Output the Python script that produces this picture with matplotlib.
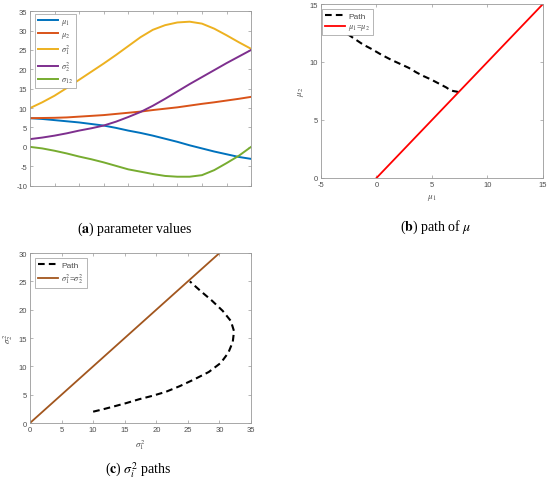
import matplotlib.pyplot as plt

plt.rcParams['font.family'] = ['Liberation Sans', 'DejaVu Sans']
plt.rcParams['mathtext.fontset'] = 'stix'
plt.rcParams['axes.unicode_minus'] = False

# parameter values along the path, read at half steps (step index 0..9)
step = [0, 0.5, 1, 1.5, 2, 2.5, 3, 3.5, 4, 4.5, 5, 5.5, 6, 6.5, 7, 7.5, 8, 8.5, 9]
mu1 = [7.4, 7.2, 6.9, 6.6, 6.3, 5.9, 5.5, 4.9, 4.2, 3.6, 2.9, 2.1, 1.3, 0.4, -0.4, -1.2, -1.9, -2.6, -3.1]
mu2 = [7.4, 7.45, 7.5, 7.6, 7.8, 8.0, 8.2, 8.5, 8.8, 9.1, 9.5, 9.85, 10.2, 10.65, 11.1, 11.5, 11.95, 12.4, 12.9]
sig1 = [10.0, 11.5, 13.2, 15.2, 17.3, 19.4, 21.5, 23.7, 26.0, 28.3, 30.2, 31.4, 32.1, 32.3, 31.8, 30.5, 28.8, 27.0, 25.3]
sig2 = [2.0, 2.4, 2.9, 3.5, 4.2, 4.8, 5.5, 6.5, 7.7, 9.0, 10.6, 12.4, 14.3, 16.2, 18.0, 19.8, 21.6, 23.3, 25.0]
sig12 = [0.0, -0.4, -1.0, -1.7, -2.5, -3.2, -4.0, -4.9, -5.8, -6.4, -7.0, -7.5, -7.7, -7.7, -7.3, -6.0, -4.2, -2.3, 0.0]

diag_mu = [0, 15]
diag_sig = [0, 30]

fig = plt.figure(figsize=(5.5, 4.81), dpi=100)
ax_a = fig.add_axes([0.0545, 0.612, 0.402, 0.3626])
ax_b = fig.add_axes([0.5836, 0.6279, 0.4036, 0.3617])
ax_c = fig.add_axes([0.0545, 0.1185, 0.402, 0.3534])


def style(ax):
    for s in ax.spines.values():
        s.set_color('0.6')
        s.set_linewidth(0.6)
    ax.tick_params(direction='in', length=2.5, width=0.5, colors='0.6',
                   labelcolor='0.3', labelsize=5.5, top=True, right=True, pad=2)


def legend(ax, x, y, spacing):
    leg = ax.legend(loc='upper left', bbox_to_anchor=(x, y), fontsize=6,
                    handlelength=2.4, labelspacing=spacing, borderpad=0.35,
                    handletextpad=0.4, fancybox=False, framealpha=1,
                    borderaxespad=0)
    leg.get_frame().set_edgecolor('0.6')
    leg.get_frame().set_linewidth(0.5)
    for t in leg.get_texts():
        t.set_color('0.3')


# (a) parameter values
ax_a.plot(step, mu1, color='#0072BD', lw=1.4, label=r'$\mu_1$')
ax_a.plot(step, mu2, color='#D95319', lw=1.4, label=r'$\mu_2$')
ax_a.plot(step, sig1, color='#EDB120', lw=1.4, label=r'$\sigma_1^2$')
ax_a.plot(step, sig2, color='#7E2F8E', lw=1.4, label=r'$\sigma_2^2$')
ax_a.plot(step, sig12, color='#77AC30', lw=1.4, label=r'$\sigma_{12}$')
ax_a.set_xlim(0, 9)
ax_a.set_ylim(-10, 35)
ax_a.set_xticks(range(10))
ax_a.set_xticklabels([])
ax_a.set_yticks(range(-10, 36, 5))
style(ax_a)
legend(ax_a, 0.023, 0.985, 0.35)

# (b) path of mu
ax_b.plot(mu1, mu2, color='k', lw=1.5, dashes=(3.2, 2.0), label='Path')
ax_b.plot(diag_mu, diag_mu, color='red', lw=1.3, label=r'$\mu_1$=$\mu_2$')
ax_b.set_xlim(-5, 15)
ax_b.set_ylim(0, 15)
ax_b.set_xticks(range(-5, 16, 5))
ax_b.set_yticks(range(0, 16, 5))
ax_b.set_xlabel(r'$\mu_1$', fontsize=6.5, color='0.3', labelpad=3)
ax_b.set_ylabel(r'$\mu_2$', fontsize=6.5, color='0.3', labelpad=3)
style(ax_b)
legend(ax_b, 0.005, 0.97, 0.3)

# (c) sigma^2 paths
ax_c.plot(sig1, sig2, color='k', lw=1.5, dashes=(3.2, 2.0), label='Path')
ax_c.plot(diag_sig, diag_sig, color='#A2561E', lw=1.3, label=r'$\sigma_1^2$=$\sigma_2^2$')
ax_c.set_xlim(0, 35)
ax_c.set_ylim(0, 30)
ax_c.set_xticks(range(0, 36, 5))
ax_c.set_yticks(range(0, 31, 5))
ax_c.set_xlabel(r'$\sigma_1^2$', fontsize=6.5, color='0.3', labelpad=3)
ax_c.set_ylabel(r'$\sigma_2^2$', fontsize=6.5, color='0.3', labelpad=3)
style(ax_c)
legend(ax_c, 0.023, 0.97, 0.3)

cap = dict(ha='center', va='center', fontsize=10, family='Liberation Serif')
fig.text(0.245, 0.524, r'($\mathbf{a}$) parameter values', **cap)
fig.text(0.793, 0.528, r'($\mathbf{b}$) path of $\mu$', **cap)
fig.text(0.251, 0.023, r'($\mathbf{c}$) $\sigma_i^2$ paths', **cap)

fig.savefig('out.png', dpi=100)
